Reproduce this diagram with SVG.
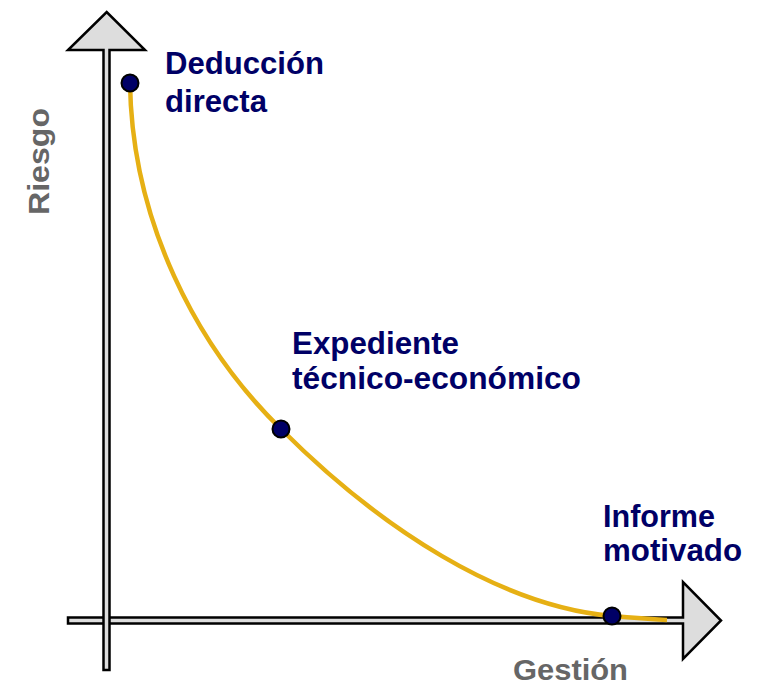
<svg xmlns="http://www.w3.org/2000/svg" width="757" height="684" viewBox="0 0 757 684">
<style>
.arrow{fill:#dddddd;stroke:#000;stroke-width:2.5;stroke-linejoin:miter}
.lbl{font-family:"Liberation Sans",Arial,sans-serif;font-weight:bold;font-size:31px;fill:#000066}
.axis{font-family:"Liberation Sans",Arial,sans-serif;font-weight:bold;font-size:29px;fill:#666666}
.dot{fill:#000066;stroke:#000;stroke-width:2}
.curve{fill:none;stroke:#E6B014;stroke-width:4.5}
</style>
<rect width="757" height="684" fill="#fff"/>
<g id="axis-x">
<path class="arrow" d="M68,617.5 L683,617.5 L683,582 L721,620.5 L683,659 L683,623.5 L68,623.5 Z"/>
</g>
<g id="axis-y">
<path class="arrow" d="M103.5,670 L103.5,50 L68,50 L106.7,12 L145,50 L109.5,50 L109.5,670 Z"/>
</g>
<g id="connectors">
<path class="curve" d="M130,83 C132,220 195,345 281,429 C380,528 500,606 612,616 C630,617.5 650,619 667,620"/>
</g>
<g id="node-deduccion">
<circle class="dot" cx="130" cy="83" r="8.5"/>
<text class="lbl" x="165" y="74" textLength="159" lengthAdjust="spacingAndGlyphs">Deducción</text>
<text class="lbl" x="165" y="111.5" textLength="102" lengthAdjust="spacingAndGlyphs">directa</text>
</g>
<g id="node-expediente">
<circle class="dot" cx="281" cy="429" r="8.5"/>
<text class="lbl" x="292" y="353.5" textLength="167" lengthAdjust="spacingAndGlyphs">Expediente</text>
<text class="lbl" x="292" y="389" textLength="289" lengthAdjust="spacingAndGlyphs">técnico-económico</text>
</g>
<g id="node-informe">
<circle class="dot" cx="612" cy="616" r="8.5"/>
<text class="lbl" x="603" y="527" textLength="112" lengthAdjust="spacingAndGlyphs">Informe</text>
<text class="lbl" x="603" y="561" textLength="139" lengthAdjust="spacingAndGlyphs">motivado</text>
</g>
<g id="label-gestion">
<text class="axis" x="513" y="679.5" textLength="115" lengthAdjust="spacingAndGlyphs">Gestión</text>
</g>
<g id="label-riesgo">
<text class="axis" transform="translate(48.5,215) rotate(-90)" x="0" y="0" textLength="107" lengthAdjust="spacingAndGlyphs">Riesgo</text>
</g>
</svg>
